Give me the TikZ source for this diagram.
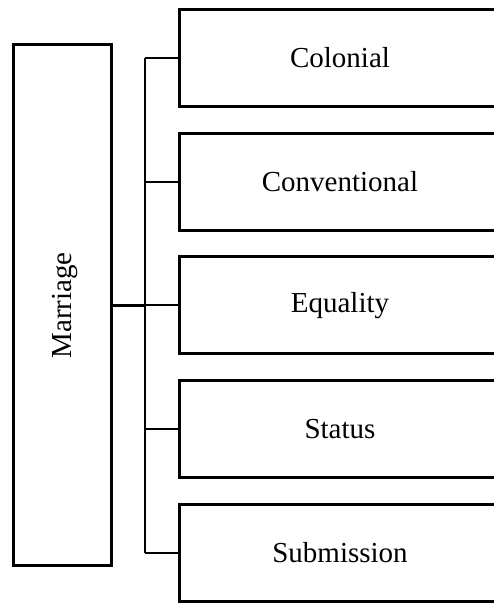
\documentclass[tikz,border=0pt]{standalone}
\usepackage{fontspec}
\setmainfont{Liberation Serif}
\begin{document}
\begin{tikzpicture}[x=1pt,y=1pt,
  leftbox/.style={draw=black, line width=3pt, minimum width=98pt, minimum height=521pt, inner sep=0pt},
  catbox/.style={draw=black, line width=3pt, minimum width=321pt, minimum height=97pt, inner sep=0pt, font=\fontsize{29}{32}\selectfont},
  vlabel/.style={inner sep=0pt, rotate=90, font=\fontsize{29}{32}\selectfont},
  conn/.style={draw=black, line width=2pt},
  mainconn/.style={draw=black, line width=2.6pt}]
\useasboundingbox (0,0) rectangle (494,605);
\clip (0,0) rectangle (494,605);
\node[leftbox] (m) at (62.5,299.5) {};
\node[vlabel] (ml) at (65,299.5) {Marriage};
\node[catbox] (b1) at (340,547) {Colonial};
\node[catbox] (b2) at (340,423.25) {Conventional};
\node[catbox] (b3) at (340,299.5) {Equality};
\node[catbox] (b4) at (340,175.75) {Status};
\node[catbox] (b5) at (340,52) {Submission};
\coordinate (j) at (145,299.5);
\coordinate (t) at (145,547);
\coordinate (u) at (145,52);
\draw[mainconn] (m.east) -- (j);
\draw[conn] (t) -- (u);
\foreach \b in {b1,b2,b3,b4,b5} {
  \draw[conn] (\b.west -| j) -- (\b.west);
}
\end{tikzpicture}
\end{document}
